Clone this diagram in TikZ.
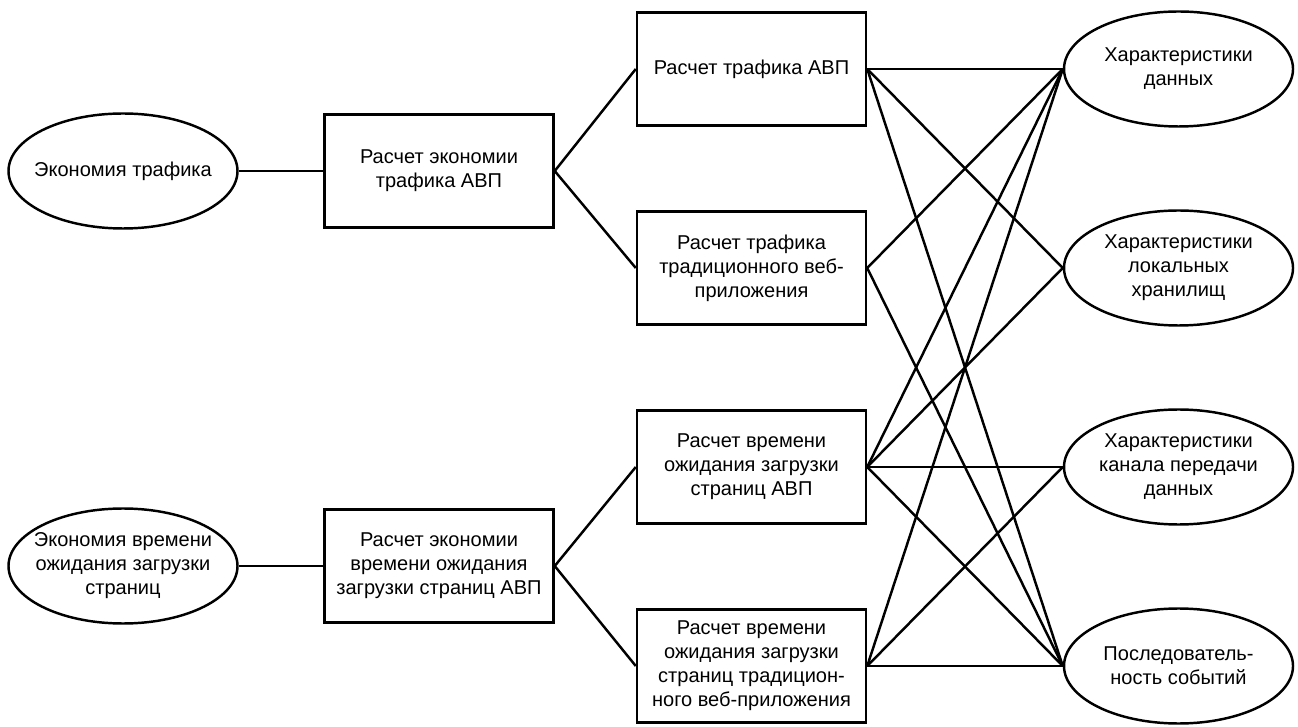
\documentclass[tikz,border=0pt]{standalone}
\usepackage{fontspec}
\setmainfont{Liberation Sans}
\usetikzlibrary{shapes.geometric}
\begin{document}
\begin{tikzpicture}[line width=1.4pt,
		blk/.style={draw,rectangle,minimum width=4.58cm,minimum height=2.26cm,inner sep=0pt,align=center,font=\fontsize{11.4}{13.66}\selectfont},
		oval/.style={draw,ellipse,minimum width=4.58cm,minimum height=2.3cm,inner xsep=-12pt,inner ysep=0pt,align=center,font=\fontsize{11.4}{13.66}\selectfont}]
	\useasboundingbox (0,0) rectangle (25.96,14.52);
	% left side
	\node[oval] (econtr) at (2.46,11.10) {Экономия трафика};
	\node[blk] (calcecontr) at (8.78,11.10) {Расчет экономии\\трафика АВП};
	\node[oval] (econtime) at (2.46,3.20) {Экономия времени\\ожидания загрузки\\страниц};
	\node[blk] (calcecontime) at (8.78,3.20) {Расчет экономии\\времени ожидания\\загрузки страниц АВП};
	% middle
	\node[blk] (trapp) at (15.03,13.14) {Расчет трафика АВП};
	\node[blk] (trweb) at (15.03,9.16) {Расчет трафика\\традиционного веб-\\приложения};
	\node[blk] (tmapp) at (15.03,5.18) {Расчет времени\\ожидания загрузки\\страниц АВП};
	\node[blk] (tmweb) at (15.03,1.20) {Расчет времени\\ожидания загрузки\\страниц традицион-\\ного веб-приложения};
	% right side
	\node[oval] (chdata) at (23.57,13.14) {Характеристики\\данных};
	\node[oval] (chstore) at (23.57,9.16) {Характеристики\\локальных\\хранилищ};
	\node[oval] (chchan) at (23.57,5.18) {Характеристики\\канала передачи\\данных};
	\node[oval] (events) at (23.57,1.20) {Последователь-\\ность событий};
	% links
	\draw (econtr) -- (calcecontr);
	\draw (econtime) -- (calcecontime);
	\draw (calcecontr.east) -- (trapp.west);
	\draw (calcecontr.east) -- (trweb.west);
	\draw (calcecontime.east) -- (tmapp.west);
	\draw (calcecontime.east) -- (tmweb.west);
	\foreach \a/\b in {trapp/chdata,trapp/chstore,trapp/events,
		trweb/chdata,trweb/events,
		tmapp/chdata,tmapp/chstore,tmapp/chchan,tmapp/events,
		tmweb/chdata,tmweb/chchan,tmweb/events}
		\draw (\a.east) -- (\b.west);
\end{tikzpicture}
\end{document}
